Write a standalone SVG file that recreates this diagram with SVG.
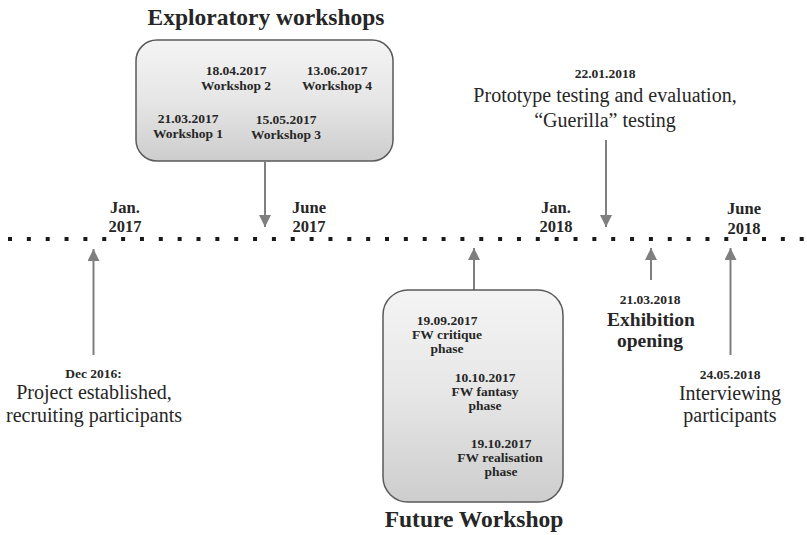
<svg xmlns="http://www.w3.org/2000/svg" width="807" height="535" viewBox="0 0 807 535">
<style>
text{font-family:"Liberation Serif","Times New Roman",serif;fill:#262626;text-anchor:middle}
.b{font-weight:bold}
.t{font-size:23.5px;font-weight:bold}
.s{font-size:13.5px;font-weight:bold}
.m{font-size:16.5px;font-weight:bold}
.r{font-size:20px}
.box{fill:url(#g);stroke:#5a5a5a;stroke-width:1.5}
.arr{stroke:#7f7f7f;stroke-width:2;fill:none;marker-end:url(#ah)}
.tl{stroke:#1a1a1a;stroke-width:4;stroke-dasharray:4 14.85;fill:none}
</style>
<defs>
<linearGradient id="g" x1="0" y1="0" x2="0" y2="1">
<stop offset="0" stop-color="#f4f4f4"/>
<stop offset="0.5" stop-color="#e6e6e6"/>
<stop offset="1" stop-color="#cdcdcd"/>
</linearGradient>
<marker id="ah" markerUnits="userSpaceOnUse" markerWidth="12" markerHeight="12" viewBox="0 0 10 10" refX="10" refY="5" orient="auto">
<path d="M0,0 L10,5 L0,10 z" fill="#7f7f7f"/>
</marker>
</defs>

<g id="timeline">
<line class="tl" x1="8" y1="239" x2="806" y2="239"/>
<text class="m" x="125" y="212.5">Jan.</text>
<text class="m" x="125" y="232">2017</text>
<text class="m" x="309" y="212.5">June</text>
<text class="m" x="309" y="232">2017</text>
<text class="m" x="556" y="212.5">Jan.</text>
<text class="m" x="556" y="232">2018</text>
<text class="m" x="744" y="214">June</text>
<text class="m" x="744" y="233.5">2018</text>
</g>

<g id="connectors">
<line class="arr" x1="93.5" y1="355" x2="93.5" y2="249"/>
<line class="arr" x1="265" y1="162" x2="265" y2="227"/>
<line class="arr" x1="474" y1="290" x2="474" y2="248"/>
<line class="arr" x1="606" y1="140" x2="606" y2="227"/>
<line class="arr" x1="651" y1="280" x2="651" y2="248"/>
<line class="arr" x1="730.5" y1="355" x2="730.5" y2="248"/>
</g>

<g id="exploratory-workshops">
<text class="t" x="266" y="25">Exploratory workshops</text>
<rect class="box" x="136" y="40" width="257" height="121" rx="21"/>
<text class="s" x="236" y="75">18.04.2017</text>
<text class="s" x="236" y="90">Workshop 2</text>
<text class="s" x="337" y="75">13.06.2017</text>
<text class="s" x="337" y="90">Workshop 4</text>
<text class="s" x="188" y="123">21.03.2017</text>
<text class="s" x="188" y="138">Workshop 1</text>
<text class="s" x="286" y="124">15.05.2017</text>
<text class="s" x="286" y="139">Workshop 3</text>
</g>

<g id="future-workshop">
<rect class="box" x="383" y="290" width="180" height="212" rx="25"/>
<text class="s" x="447" y="325">19.09.2017</text>
<text class="s" x="447" y="339">FW critique</text>
<text class="s" x="447" y="353">phase</text>
<text class="s" x="485" y="382">10.10.2017</text>
<text class="s" x="485" y="396">FW fantasy</text>
<text class="s" x="485" y="410">phase</text>
<text class="s" x="501" y="448">19.10.2017</text>
<text class="s" x="500" y="462">FW realisation</text>
<text class="s" x="501" y="476">phase</text>
<text class="t" x="474" y="527">Future Workshop</text>
</g>

<g id="project-established">
<text class="s" x="93.5" y="378">Dec 2016:</text>
<text class="r" x="94" y="399">Project established,</text>
<text class="r" x="94" y="422">recruiting participants</text>
</g>

<g id="prototype-testing">
<text class="s" x="605" y="78">22.01.2018</text>
<text class="r" x="605" y="102">Prototype testing and evaluation,</text>
<text class="r" x="605" y="127">“Guerilla” testing</text>
</g>

<g id="exhibition-opening">
<text class="s" x="650" y="304">21.03.2018</text>
<text class="b" style="font-size:19.5px" x="651" y="326">Exhibition</text>
<text class="b" style="font-size:19.5px" x="650" y="347">opening</text>
</g>

<g id="interviewing">
<text class="s" x="730" y="379">24.05.2018</text>
<text class="r" x="730" y="400">Interviewing</text>
<text class="r" x="730" y="422">participants</text>
</g>
</svg>
